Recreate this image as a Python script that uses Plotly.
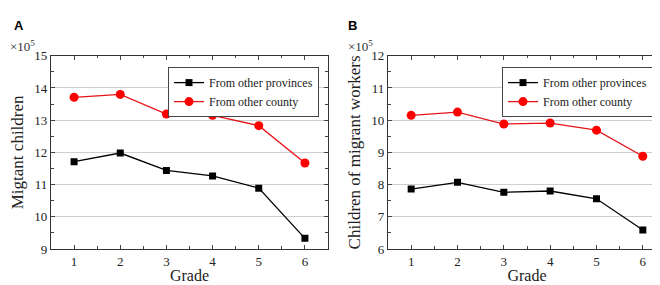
import plotly.graph_objects as go

grades = [1, 2, 3, 4, 5, 6]
a_provinces = [11.71, 11.98, 11.44, 11.27, 10.89, 9.33]
a_county = [13.71, 13.80, 13.19, 13.15, 12.83, 11.67]
b_provinces = [7.86, 8.07, 7.76, 7.80, 7.56, 6.59]
b_county = [10.15, 10.25, 9.88, 9.91, 9.69, 8.88]
names = ["From other provinces", "From other county"]
ytitles = ["Migtant children", "Children of migrant workers"]
panel_labels = ["A", "B"]

SERIF = "Liberation Serif"
fig = go.Figure()

def add(xa, ya, prov, county, leg):
    fig.add_trace(go.Scatter(x=grades, y=prov, mode="lines+markers", name=names[0],
                             line=dict(color="black", width=1.3),
                             marker=dict(symbol="square", size=7, color="black"),
                             xaxis=xa, yaxis=ya, legend=leg))
    fig.add_trace(go.Scatter(x=grades, y=county, mode="lines+markers", name=names[1],
                             line=dict(color="#e8141a", width=1.3),
                             marker=dict(symbol="circle", size=9, color="#ff0000"),
                             xaxis=xa, yaxis=ya, legend=leg))

add("x", "y", a_provinces, a_county, "legend")
add("x2", "y2", b_provinces, b_county, "legend2")

ydom = [1 - 247 / 285, 1 - 43 / 285]
common_x = dict(range=[0.5, 6.5], tickvals=grades, ticks="inside", ticklen=4, tickwidth=1,
                showline=True, linecolor="#333", linewidth=1.2, mirror="ticks",
                showgrid=False, zeroline=False,
                minor=dict(ticks="inside", ticklen=2.5, dtick=0.5, tick0=0.5, showgrid=False),
                tickfont=dict(family=SERIF, size=13, color="#222"),
                title=dict(text="Grade", font=dict(family=SERIF, size=16, color="#222"), standoff=2))
common_y = dict(ticks="inside", ticklen=4, tickwidth=1, dtick=1,
                showline=True, linecolor="#333", linewidth=1.2, mirror="ticks",
                showgrid=True, gridcolor="#cfcfcf", gridwidth=1, zeroline=False,
                minor=dict(ticks="inside", ticklen=2.5, dtick=0.5, showgrid=False),
                tickfont=dict(family=SERIF, size=13, color="#222"))

legend_style = dict(xanchor="left", yanchor="top",
                    bordercolor="#444", borderwidth=1, bgcolor="white",
                    font=dict(family=SERIF, size=12, color="#222"),
                    tracegroupgap=0, itemwidth=30)

fig.update_layout(
    width=660, height=285, margin=dict(l=0, r=0, t=0, b=0),
    plot_bgcolor="white", paper_bgcolor="white",
    xaxis=dict(domain=[43 / 660, 320 / 660], anchor="y", **common_x),
    xaxis2=dict(domain=[380 / 660, 658 / 660], anchor="y2", **common_x),
    yaxis=dict(domain=ydom, range=[9, 15], anchor="x",
               title=dict(text=ytitles[0], font=dict(family=SERIF, size=17, color="#222"), standoff=6),
               **common_y),
    yaxis2=dict(domain=ydom, range=[6, 12], anchor="x2",
                title=dict(text=ytitles[1], font=dict(family=SERIF, size=17, color="#222"), standoff=6),
                **common_y),
    legend=dict(x=160 / 660, y=1 - 55 / 285, **legend_style),
    legend2=dict(x=494 / 660, y=1 - 55 / 285, **legend_style),
    showlegend=True,
)

for xpos, lab in [(4, panel_labels[0]), (338, panel_labels[1])]:
    fig.add_annotation(x=xpos / 660, y=1 - 1 / 285, xref="paper", yref="paper",
                       xanchor="left", yanchor="top", showarrow=False,
                       text="<b>" + lab + "</b>",
                       font=dict(family="Liberation Sans", size=13, color="black"))
for xpos in [0, 338]:
    fig.add_annotation(x=xpos / 660, y=1 - 22 / 285, xref="paper", yref="paper",
                       xanchor="left", yanchor="top", showarrow=False,
                       text="×10<sup>5</sup>",
                       font=dict(family=SERIF, size=13, color="#333"))

fig.write_html("out.html")
